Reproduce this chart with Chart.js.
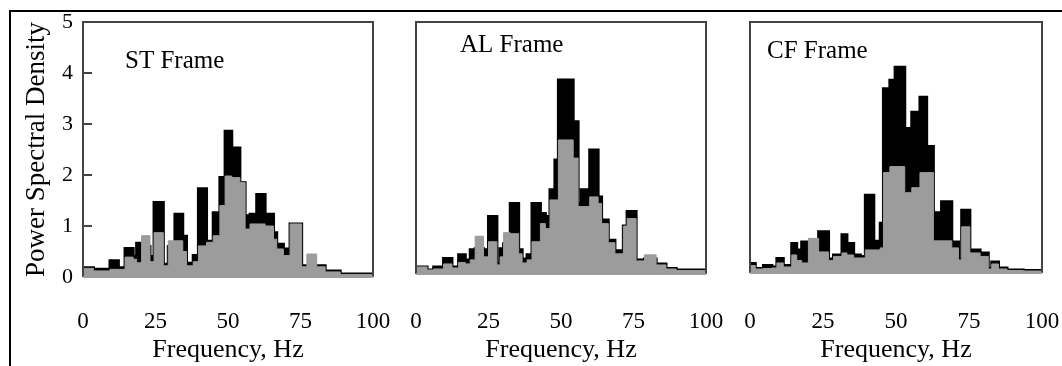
<!DOCTYPE html>
<html>
<head>
<meta charset="utf-8">
<title>Power Spectral Density</title>
<script src="https://cdn.jsdelivr.net/npm/chart.js"></script>
<style>
  body { margin: 0; background: #fff; width: 1062px; height: 366px; overflow: hidden; position: relative; }
  .frame { position: absolute; left: 9px; top: 10px; width: 1060px; height: 360px; border-top: 2px solid #000; border-left: 2px solid #000; }
  canvas { position: absolute; top: 0; }
</style>
</head>
<body>
<div class="frame"></div>
<canvas id="st" width="400" height="366" style="left:0"></canvas>
<canvas id="al" width="330" height="366" style="left:396px"></canvas>
<canvas id="cf" width="332" height="366" style="left:730px"></canvas>
<script>
// tick labels shared by the three panels
const xTicks = [0, 25, 50, 75, 100];
const yTicks = [0, 1, 2, 3, 4, 5];

// ST frame: step start frequencies (Hz) and PSD of the two records
const stFreq  = [0, 3.6, 9.3, 12.2, 14.5, 17.3, 18.5, 20.2, 23.1, 24.5, 27.7, 29.4, 31.7, 34.4, 35.7, 38, 39.8, 42.6, 44.9, 47.2, 49, 51.3, 54.1, 55.9, 57.6, 59.9, 62.8, 65.7, 66.8, 69.1, 71.4, 75.4, 77.2, 80.6, 83.5, 88.7];
const stBlack = [0.18, 0.15, 0.32, 0.18, 0.56, 0.41, 0.66, 0.6, 0.4, 1.46, 0.25, 0.6, 1.23, 0.8, 0.27, 0.42, 1.73, 0.7, 1.26, 1.95, 2.86, 2.53, 1.85, 1.2, 1.23, 1.62, 1.23, 0.87, 0.64, 0.55, 1.04, 0.22, 0.2, 0.22, 0.12, 0.06];
const stGray  = [0.17, 0.12, 0.15, 0.15, 0.39, 0.35, 0.28, 0.81, 0.3, 0.87, 0.22, 0.71, 0.71, 0.5, 0.22, 0.3, 0.61, 0.68, 0.81, 1.4, 1.98, 1.95, 1.85, 0.94, 1.04, 1.04, 1.0, 0.74, 0.55, 0.42, 1.04, 0.2, 0.45, 0.2, 0.1, 0.05];

// AL frame
const alFreq  = [0, 3.8, 6.1, 9.5, 12.4, 14.7, 17, 18.7, 20.4, 23.3, 25, 27.9, 29, 30.2, 32.5, 35.4, 36.6, 38.3, 40, 42.9, 44.6, 46.2, 47.9, 49.1, 54.2, 55.9, 57, 59.9, 62.8, 64, 66.3, 68.6, 71.5, 72.8, 75.9, 78.8, 82.8, 86.2, 89.7];
const alBlack = [0.14, 0.08, 0.14, 0.31, 0.14, 0.38, 0.28, 0.48, 0.5, 0.48, 1.14, 0.2, 0.5, 0.6, 1.4, 0.48, 0.3, 0.38, 1.4, 1.2, 1.14, 1.67, 2.26, 3.85, 3.02, 1.4, 1.67, 2.46, 1.53, 1.07, 0.67, 0.46, 0.95, 1.24, 0.28, 0.3, 0.2, 0.11, 0.08];
const alGray  = [0.14, 0.08, 0.1, 0.2, 0.12, 0.23, 0.2, 0.28, 0.75, 0.34, 0.64, 0.18, 0.34, 0.82, 0.8, 0.4, 0.22, 0.28, 0.64, 1.0, 0.9, 1.47, 1.47, 2.66, 2.3, 1.34, 1.34, 1.53, 1.4, 1.0, 0.62, 0.4, 0.95, 1.1, 0.26, 0.38, 0.18, 0.1, 0.07];

// CF frame
const cfFreq  = [0, 1.8, 4.6, 7.5, 9.2, 11.4, 14.3, 16, 17.7, 20, 23.5, 26.9, 28.6, 31.5, 33.2, 35.5, 37.8, 39.5, 42.4, 44.6, 45.7, 47.9, 49.7, 53, 55.4, 58.2, 60.5, 62.8, 65.6, 69.1, 71.4, 72.5, 75.3, 78.8, 81.6, 82.8, 85.1, 88, 93.6];
const cfBlack = [0.19, 0.09, 0.15, 0.12, 0.29, 0.15, 0.59, 0.46, 0.62, 0.5, 0.82, 0.28, 0.36, 0.76, 0.59, 0.36, 0.33, 1.55, 0.63, 0.99, 3.67, 3.84, 4.1, 2.88, 3.2, 3.5, 2.52, 1.2, 1.42, 0.62, 0.26, 1.25, 0.46, 0.4, 0.09, 0.22, 0.1, 0.06, 0.05];
const cfGray  = [0.15, 0.08, 0.09, 0.1, 0.2, 0.12, 0.36, 0.25, 0.2, 0.69, 0.42, 0.25, 0.33, 0.4, 0.36, 0.3, 0.3, 0.46, 0.46, 0.5, 2.0, 2.12, 2.12, 1.6, 1.7, 2.0, 2.0, 0.64, 0.64, 0.5, 0.26, 0.92, 0.4, 0.33, 0.08, 0.18, 0.08, 0.05, 0.04];

const FONT = '"Liberation Serif", "Times New Roman", serif';
const GRAY = '#9c9c9c';
const H = 366;

// turn bin starts + values into step points, closing the last bin at 100 Hz
function steps(freq, vals) {
    const pts = freq.map((f, i) => ({ x: f, y: vals[i] }));
    pts.push({ x: 100, y: vals[vals.length - 1] });
    return pts;
}

// box around the plot, inward y ticks and the frame name
const panelDecor = {
    id: 'panelDecor',
    afterDatasetsDraw(chart, args, opts) {
        const { ctx, chartArea: a } = chart;
        ctx.save();
        ctx.lineWidth = 2;
        ctx.strokeStyle = '#444';
        ctx.beginPath();
        ctx.moveTo(a.left, a.bottom);
        ctx.lineTo(a.left, a.top);
        ctx.lineTo(a.right, a.top);
        ctx.lineTo(a.right, a.bottom);
        ctx.stroke();
        ctx.strokeStyle = GRAY;
        ctx.beginPath();
        ctx.moveTo(a.left, a.bottom);
        ctx.lineTo(a.right, a.bottom);
        ctx.stroke();
        if (opts.innerTicks) {
            const y = chart.scales.y;
            ctx.strokeStyle = '#444';
            y.ticks.forEach(t => {
                if (t.value <= 0 || t.value >= 5) return;
                const py = Math.round(y.getPixelForValue(t.value));
                ctx.beginPath();
                ctx.moveTo(a.left, py);
                ctx.lineTo(a.left + 9, py);
                ctx.stroke();
            });
        }
        ctx.fillStyle = '#000';
        ctx.font = '25px ' + FONT;
        ctx.textBaseline = 'middle';
        ctx.fillText(opts.label, a.left + opts.dx, opts.y);
        ctx.restore();
    }
};

function makePanel(id, freq, black, gray, p) {
    return new Chart(document.getElementById(id), {
        type: 'line',
        data: {
            datasets: [
                { data: steps(freq, gray), stepped: 'before', fill: 'origin', backgroundColor: GRAY, borderColor: GRAY, borderWidth: 1, pointRadius: 0 },
                { data: steps(freq, black), stepped: 'before', fill: 'origin', backgroundColor: '#000', borderColor: '#000', borderWidth: 3, pointRadius: 0 }
            ]
        },
        options: {
            responsive: false,
            animation: false,
            devicePixelRatio: 1,
            layout: { padding: { top: 22, left: p.padLeft, right: p.padRight, bottom: 0 } },
            plugins: {
                legend: { display: false },
                tooltip: { enabled: false },
                panelDecor: { label: p.label, dx: p.dx, y: p.labelY, innerTicks: p.showY }
            },
            scales: {
                x: {
                    type: 'linear', min: 0, max: 100,
                    // invisible tick marks push the labels down without widening the axis
                    grid: { drawOnChartArea: false, drawTicks: true, tickLength: 308 - p.bottom, tickColor: 'rgba(0,0,0,0)' },
                    border: { display: false },
                    afterBuildTicks: s => { s.ticks = xTicks.map(v => ({ value: v })); },
                    afterFit: s => { s.height = H - p.bottom; },
                    ticks: { padding: 0, color: '#000', autoSkip: false, maxRotation: 0, font: { family: FONT, size: 23 } },
                    title: { display: true, text: 'Frequency, Hz', color: '#000', font: { family: FONT, size: 26 }, padding: { top: 0, bottom: 0 } }
                },
                y: {
                    display: p.showY, min: 0, max: 5,
                    grid: { drawOnChartArea: false, drawTicks: true, tickLength: 10, tickColor: 'rgba(0,0,0,0)' },
                    border: { display: false },
                    afterBuildTicks: s => { s.ticks = yTicks.map(v => ({ value: v })); },
                    afterFit: s => { s.width = p.padAxis; },
                    ticks: { padding: 0, color: '#000', font: { family: FONT, size: 22 } },
                    title: { display: true, text: 'Power Spectral Density', color: '#000', font: { family: FONT, size: 27 }, padding: { top: 21, bottom: 0 } }
                }
            }
        },
        plugins: [panelDecor]
    });
}

makePanel('st', stFreq, stBlack, stGray, { label: 'ST Frame', dx: 42, labelY: 61, showY: true, padAxis: 83, padLeft: 0, padRight: 27, bottom: 277 });
makePanel('al', alFreq, alBlack, alGray, { label: 'AL Frame', dx: 44, labelY: 45, showY: false, padAxis: 0, padLeft: 20, padRight: 20, bottom: 274 });
makePanel('cf', cfFreq, cfBlack, cfGray, { label: 'CF Frame', dx: 17, labelY: 51, showY: false, padAxis: 0, padLeft: 20, padRight: 20, bottom: 273 });
</script>
</body>
</html>
